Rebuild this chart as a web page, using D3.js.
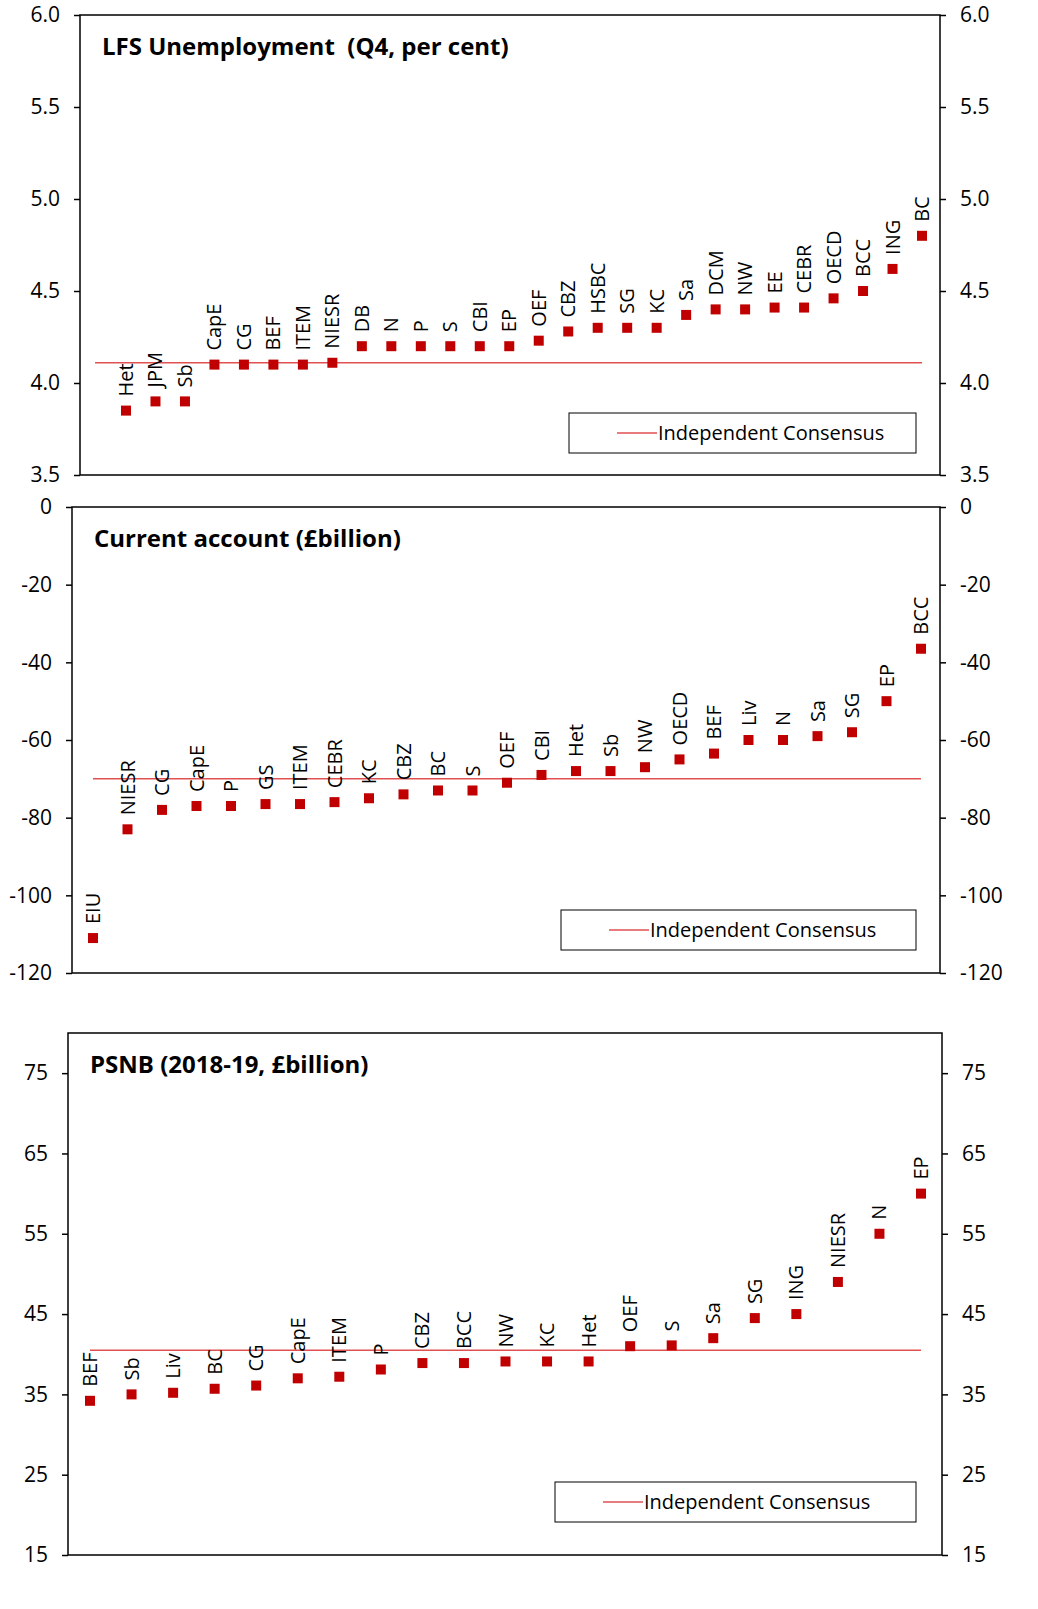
<!DOCTYPE html>
<html><head><meta charset="utf-8">
<script src="https://cdn.jsdelivr.net/npm/d3@7"></script>
<style>body{margin:0;background:#fff}text{font-family:"Open Sans",sans-serif;white-space:pre}</style>
</head><body><div id="viz"></div>
<script>
var width = 1038, height = 1609;

var unempNames = ['Het','JPM','Sb','CapE','CG','BEF','ITEM','NIESR','DB','N','P','S','CBI','EP','OEF','CBZ','HSBC','SG','KC','Sa','DCM','NW','EE','CEBR','OECD','BCC','ING','BC'];
var unempValues = [3.85,3.9,3.9,4.1,4.1,4.1,4.1,4.11,4.2,4.2,4.2,4.2,4.2,4.2,4.23,4.28,4.3,4.3,4.3,4.37,4.4,4.4,4.41,4.41,4.46,4.5,4.62,4.8];
var unempTicks = [3.5,4.0,4.5,5.0,5.5,6.0];

var caNames = ['EIU','NIESR','CG','CapE','P','GS','ITEM','CEBR','KC','CBZ','BC','S','OEF','CBI','Het','Sb','NW','OECD','BEF','Liv','N','Sa','SG','EP','BCC'];
var caValues = [-111,-83,-78,-77,-77,-76.5,-76.5,-76,-75,-74,-73,-73,-71,-69,-68,-68,-67,-65,-63.5,-60,-60,-59,-58,-50,-36.5];
var caTicks = [-120,-100,-80,-60,-40,-20,0];

var psnbNames = ['BEF','Sb','Liv','BC','CG','CapE','ITEM','P','CBZ','BCC','NW','KC','Het','OEF','S','Sa','SG','ING','NIESR','N','EP'];
var psnbValues = [34.2,35,35.2,35.7,36.1,37,37.2,38.1,38.9,38.9,39.1,39.1,39.1,41,41.1,42,44.5,45,49,55,60];
var psnbTicks = [15,25,35,45,55,65,75];

var svg = d3.select('#viz').append('svg').attr('width', width).attr('height', height);

function intFmt(d) { return String(d); }

function panel(o) {
  var g = svg.append('g');
  var y = d3.scaleLinear().domain(o.domain).range([o.bottom, o.top]);
  var x = d3.scalePoint().domain(o.names).range([o.x0, o.x1]);
  g.append('rect').attr('x', o.left).attr('y', o.top).attr('width', o.right - o.left)
    .attr('height', o.bottom - o.top).attr('fill', 'none').attr('stroke', '#000').attr('stroke-width', 1.5);
  var la = d3.axisLeft(y).tickValues(o.ticks).tickSize(6).tickPadding(14).tickFormat(o.fmt);
  var ra = d3.axisRight(y).tickValues(o.ticks).tickSize(6).tickPadding(14).tickFormat(o.fmt);
  [[la, o.left], [ra, o.right]].forEach(function (a) {
    var ax = g.append('g').attr('transform', 'translate(' + a[1] + ',0)').call(a[0]);
    ax.select('.domain').remove();
    ax.selectAll('line').attr('stroke', '#000').attr('stroke-width', 1.5);
    ax.selectAll('text').attr('font-size', 21).attr('font-family', '"Open Sans",sans-serif').attr('fill', '#000');
  });
  g.append('line').attr('x1', o.lx0).attr('x2', o.x1).attr('y1', y(o.cons)).attr('y2', y(o.cons))
    .attr('stroke', '#e05050').attr('stroke-width', 1.5);
  g.selectAll('rect.pt').data(o.values).enter().append('rect').attr('class', 'pt')
    .attr('x', function (d, i) { return x(o.names[i]) - 5; })
    .attr('y', function (d) { return y(d) - 5; })
    .attr('width', 10).attr('height', 10).attr('fill', '#c00000');
  g.selectAll('text.lb').data(o.values).enter().append('text').attr('class', 'lb')
    .attr('transform', function (d, i) { return 'translate(' + (x(o.names[i]) + 7) + ',' + (y(d) - 14) + ') rotate(-90)'; })
    .attr('font-size', 20).text(function (d, i) { return o.names[i]; });
  g.append('text').attr('x', o.left + 22).attr('y', o.top + 40).attr('font-size', 24)
    .attr('font-weight', 'bold').text(o.title);
  var lg = o.legend;
  g.append('rect').attr('x', lg[0]).attr('y', lg[1]).attr('width', lg[2]).attr('height', 40)
    .attr('fill', '#fff').attr('stroke', '#000').attr('stroke-width', 1);
  g.append('line').attr('x1', lg[0] + 48).attr('x2', lg[0] + 88).attr('y1', lg[1] + 20).attr('y2', lg[1] + 20)
    .attr('stroke', '#e05050').attr('stroke-width', 1.5);
  g.append('text').attr('x', lg[0] + 89).attr('y', lg[1] + 27).attr('font-size', 20).text('Independent Consensus');
}

panel({names: unempNames, values: unempValues, ticks: unempTicks, domain: [3.5, 6.0], fmt: d3.format('.1f'),
  top: 15, bottom: 475, left: 80, right: 940, x0: 126, x1: 922, lx0: 95, cons: 4.11,
  title: 'LFS Unemployment  (Q4, per cent)', legend: [569, 413, 347]});
panel({names: caNames, values: caValues, ticks: caTicks, domain: [-120, 0], fmt: intFmt,
  top: 507, bottom: 973, left: 72, right: 940, x0: 93, x1: 921, lx0: 93, cons: -70,
  title: 'Current account (£billion)', legend: [561, 910, 355]});
panel({names: psnbNames, values: psnbValues, ticks: psnbTicks, domain: [15, 80], fmt: intFmt,
  top: 1033, bottom: 1555, left: 68, right: 942, x0: 90, x1: 921, lx0: 90, cons: 40.5,
  title: 'PSNB (2018-19, £billion)', legend: [555, 1482, 361]});
</script></body></html>
